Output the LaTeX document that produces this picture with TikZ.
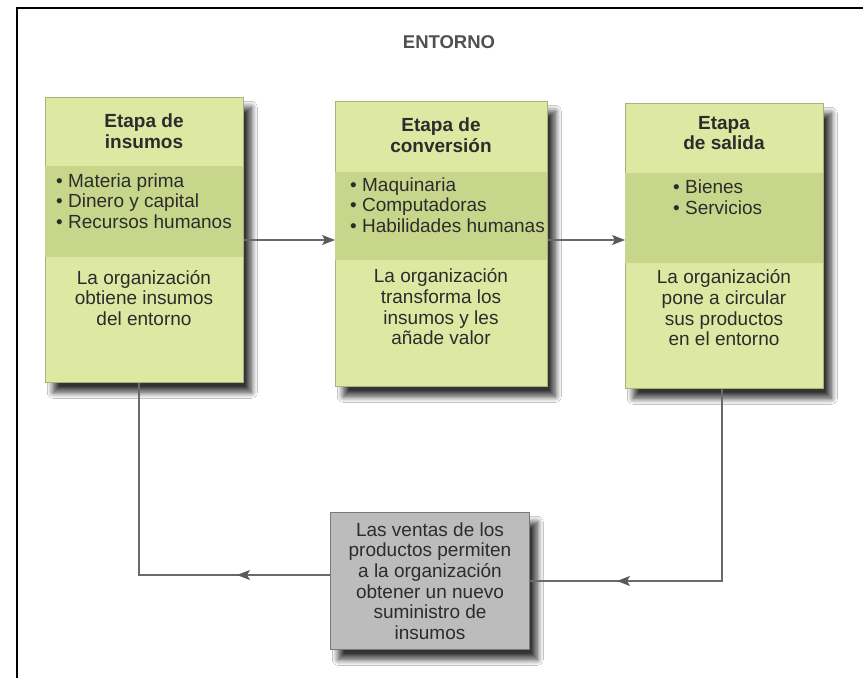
\documentclass[tikz,border=0pt]{standalone}
\usepackage{fontspec}
\setmainfont{Liberation Sans}
\usetikzlibrary{arrows.meta,shadows.blur}
\definecolor{boxfill}{HTML}{DDE8A2}
\definecolor{bandfill}{HTML}{C8D68B}
\definecolor{boxline}{HTML}{A9B27E}
\definecolor{grayfill}{HTML}{BCBCBC}
\definecolor{grayline}{HTML}{7A7A7A}
\definecolor{txtcol}{HTML}{2C2C2C}
\definecolor{conncol}{HTML}{6A6A6A}
\definecolor{tipcol}{HTML}{5A5A5A}
\definecolor{titlecol}{HTML}{505050}
\newcommand{\stagefont}{\fontsize{19}{20.7}\selectfont}
\begin{document}
\begin{tikzpicture}[x=1pt,y=-1pt,
  myshadow/.style={blur shadow={shadow xshift=8pt, shadow yshift=-10pt, shadow blur radius=6pt, shadow blur steps=12, shadow opacity=80}},
  stagebox/.style={draw=boxline, line width=0.6pt, fill=boxfill, inner sep=0pt, anchor=north west, myshadow},
  graybox/.style={draw=grayline, line width=0.6pt, fill=grayfill, inner sep=0pt, anchor=north west, myshadow},
  band/.style={fill=bandfill},
  headtext/.style={font=\stagefont\bfseries, text=txtcol, align=center, inner sep=0pt},
  bodytext/.style={font=\stagefont, text=txtcol, align=center, inner sep=0pt},
  listtext/.style={font=\stagefont, text=txtcol, align=left, inner sep=0pt, anchor=west},
  connline/.style={draw=conncol, line width=1.1pt},
  arrowtip/.style={-{Stealth[length=13pt,width=10pt,inset=3pt,color=tipcol,fill=tipcol]}}
]
\useasboundingbox (0,0) rectangle (863,678);
\fill[white] (0,0) rectangle (863,678);
% frame
\draw[line width=2.6pt, black] (863,8) -- (17,8) -- (17,678);
% title
\node[font=\fontsize{18.5}{20}\selectfont\bfseries, text=titlecol] (title) at (449,42) {ENTORNO};

% stage boxes
\node[stagebox, minimum width=198pt, minimum height=285pt] (b1) at (45,97) {};
\node[stagebox, minimum width=212pt, minimum height=285pt] (b2) at (335,101) {};
\node[stagebox, minimum width=198pt, minimum height=285pt] (b3) at (625,103) {};
\fill[band] (45.3,166) rectangle (242.7,257);
\fill[band] (335.3,172) rectangle (546.7,260);
\fill[band] (625.3,173) rectangle (822.7,263);

% bottom box
\node[graybox, minimum width=199pt, minimum height=137pt] (bot) at (330,512) {};

% texts box 1
\node[headtext] (h1) at (144,131) {Etapa de\\insumos};
\node[listtext] (l1) at (56,201) {• Materia prima\\• Dinero y capital\\• Recursos humanos};
\node[bodytext] (t1) at (144,298) {La organización\\obtiene insumos\\del entorno};
% texts box 2
\node[headtext] (h2) at (441,135) {Etapa de\\conversión};
\node[listtext] (l2) at (350,205) {• Maquinaria\\• Computadoras\\• Habilidades humanas};
\node[bodytext] (t2) at (441,307) {La organización\\transforma los\\insumos y les\\añade valor};
% texts box 3
\node[headtext] (h3) at (724,133) {Etapa\\de salida};
\node[listtext] (l3) at (673,197) {• Bienes\\• Servicios};
\node[bodytext] (t3) at (724,308) {La organización\\pone a circular\\sus productos\\en el entorno};
% bottom text
\node[bodytext] (tb) at (430,581) {Las ventas de los\\productos permiten\\a la organización\\obtener un nuevo\\suministro de\\insumos};

% connectors
\coordinate (ytop) at (0,240);
\draw[connline, arrowtip] (b1.east |- ytop) -- (b2.west |- ytop);
\draw[connline, arrowtip] (b2.east |- ytop) -- (b3.west |- ytop);

\coordinate (cR) at (722,581);
\coordinate (aR) at (617,581);
\draw[connline] (b3.south -| cR) -- (cR) -- (bot.east |- cR);
\draw[connline, arrowtip] (cR) -- (aR);

\coordinate (cL) at (139,575);
\coordinate (aL) at (237,575);
\draw[connline] (bot.west |- cL) -- (cL) -- (b1.south -| cL);
\draw[connline, arrowtip] (bot.west |- cL) -- (aL);
\end{tikzpicture}
\end{document}
